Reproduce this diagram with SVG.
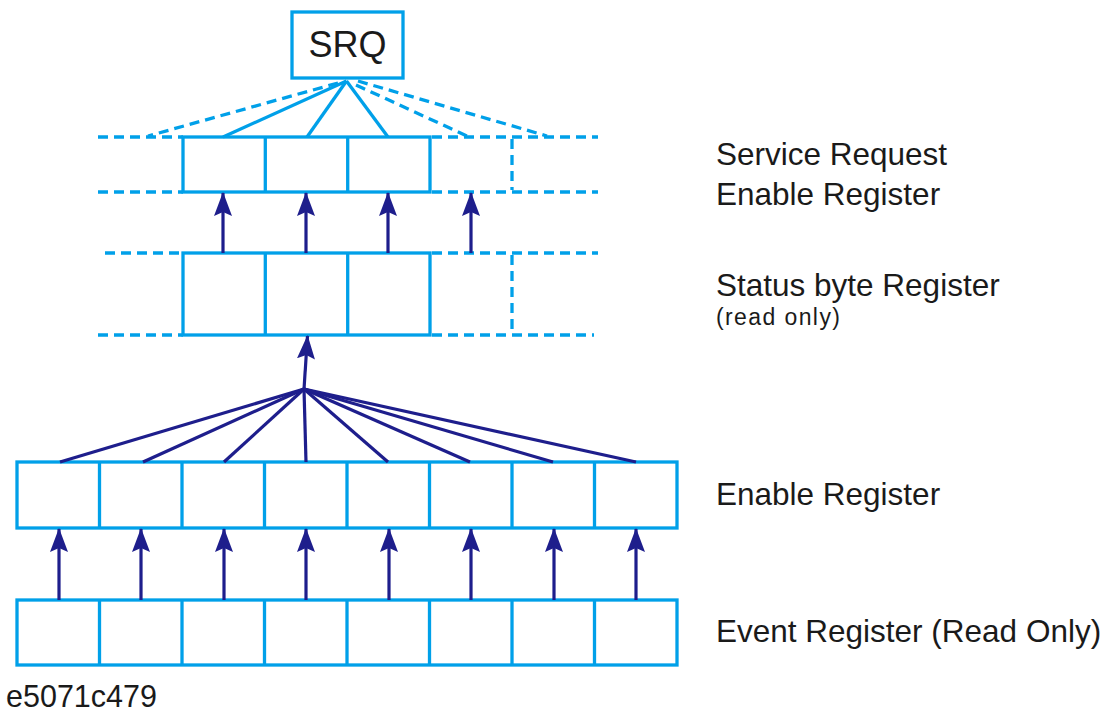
<svg xmlns="http://www.w3.org/2000/svg" width="1108" height="713" viewBox="0 0 1108 713">
<style>
.box{fill:none;stroke:#00a0e9;stroke-width:3.3}
.cell{stroke:#00a0e9;stroke-width:3.3}
.dash{fill:none;stroke:#00a0e9;stroke-width:3.3;stroke-dasharray:10 6}
.solid{fill:none;stroke:#00a0e9;stroke-width:3.3}
.nav{fill:none;stroke:#1e1e8c;stroke-width:3.2}
.arr{fill:none;stroke:#1e1e8c;stroke-width:3.2;marker-end:url(#ah)}
.lbl{font-family:"Liberation Sans",Arial,sans-serif;fill:#1a1a1a;font-size:31.5px}
</style>
<defs>
<marker id="ah" viewBox="0 0 24 18" refX="23" refY="9" markerWidth="24" markerHeight="18" markerUnits="userSpaceOnUse" orient="auto">
<path d="M0,0 L24,9 L0,18 L4,9 z" fill="#1e1e8c"/>
</marker>
</defs>
<rect width="1108" height="713" fill="#ffffff"/>

<g id="srq">
<rect class="box" x="292" y="12" width="111" height="66"/>
<text class="lbl" x="347.5" y="57" text-anchor="middle" style="font-size:36px">SRQ</text>
</g>

<g id="service-request-enable-register">
<rect class="box" x="183" y="137" width="247" height="55"/>
<line class="cell" x1="265.3" y1="137" x2="265.3" y2="192"/>
<line class="cell" x1="347.7" y1="137" x2="347.7" y2="192"/>
<line class="dash" x1="98" y1="137" x2="183" y2="137"/>
<line class="dash" x1="432" y1="137" x2="598" y2="137"/>
<line class="dash" x1="98" y1="192" x2="183" y2="192"/>
<line class="dash" x1="432" y1="192" x2="598" y2="192"/>
<line class="dash" x1="512" y1="139" x2="512" y2="190"/>
<text class="lbl" x="716" y="165">Service Request</text>
<text class="lbl" x="716" y="205">Enable Register</text>
</g>

<g id="status-byte-register">
<rect class="box" x="183" y="253" width="247" height="82"/>
<line class="cell" x1="265.3" y1="253" x2="265.3" y2="335"/>
<line class="cell" x1="347.7" y1="253" x2="347.7" y2="335"/>
<line class="dash" x1="105" y1="253" x2="183" y2="253"/>
<line class="dash" x1="432" y1="253" x2="598" y2="253"/>
<line class="dash" x1="98" y1="335" x2="183" y2="335"/>
<line class="dash" x1="432" y1="335" x2="594" y2="335"/>
<line class="dash" x1="512" y1="255" x2="512" y2="333"/>
<text class="lbl" x="716" y="296">Status byte Register</text>
<text class="lbl" x="716" y="325" style="font-size:23px;letter-spacing:1.4px">(read only)</text>
</g>

<g id="enable-register">
<rect class="box" x="17" y="462" width="660" height="66"/>
<line class="cell" x1="99.5" y1="462" x2="99.5" y2="528"/>
<line class="cell" x1="182" y1="462" x2="182" y2="528"/>
<line class="cell" x1="264.5" y1="462" x2="264.5" y2="528"/>
<line class="cell" x1="347" y1="462" x2="347" y2="528"/>
<line class="cell" x1="429.5" y1="462" x2="429.5" y2="528"/>
<line class="cell" x1="512" y1="462" x2="512" y2="528"/>
<line class="cell" x1="594.5" y1="462" x2="594.5" y2="528"/>
<text class="lbl" x="716" y="505">Enable Register</text>
</g>

<g id="event-register">
<rect class="box" x="17" y="600" width="660" height="65"/>
<line class="cell" x1="99.5" y1="600" x2="99.5" y2="665"/>
<line class="cell" x1="182" y1="600" x2="182" y2="665"/>
<line class="cell" x1="264.5" y1="600" x2="264.5" y2="665"/>
<line class="cell" x1="347" y1="600" x2="347" y2="665"/>
<line class="cell" x1="429.5" y1="600" x2="429.5" y2="665"/>
<line class="cell" x1="512" y1="600" x2="512" y2="665"/>
<line class="cell" x1="594.5" y1="600" x2="594.5" y2="665"/>
<text class="lbl" x="716" y="642">Event Register (Read Only)</text>
</g>

<g id="figure-id">
<text class="lbl" x="6" y="707" style="font-size:30.5px">e5071c479</text>
</g>

<g id="connectors">
<line class="solid" x1="346.5" y1="81" x2="223" y2="137"/>
<line class="solid" x1="346.5" y1="81" x2="307" y2="137"/>
<line class="solid" x1="346.5" y1="81" x2="388" y2="137"/>
<line class="dash" x1="338" y1="83" x2="148" y2="136"/>
<line class="dash" x1="356" y1="85" x2="467" y2="136"/>
<line class="dash" x1="358" y1="81" x2="547" y2="136"/>
<line class="arr" x1="223" y1="253" x2="223" y2="193"/>
<line class="arr" x1="306" y1="253" x2="306" y2="193"/>
<line class="arr" x1="388" y1="253" x2="388" y2="193"/>
<line class="arr" x1="471" y1="253" x2="471" y2="193"/>
<line class="arr" x1="304" y1="389" x2="307.5" y2="336"/>
<line class="nav" x1="304" y1="389" x2="60" y2="462"/>
<line class="nav" x1="304" y1="389" x2="143" y2="462"/>
<line class="nav" x1="304" y1="389" x2="224" y2="462"/>
<line class="nav" x1="304" y1="389" x2="306" y2="462"/>
<line class="nav" x1="304" y1="389" x2="388" y2="462"/>
<line class="nav" x1="304" y1="389" x2="470" y2="462"/>
<line class="nav" x1="304" y1="389" x2="553" y2="462"/>
<line class="nav" x1="304" y1="389" x2="636" y2="462"/>
<line class="arr" x1="59" y1="600" x2="59" y2="529"/>
<line class="arr" x1="141" y1="600" x2="141" y2="529"/>
<line class="arr" x1="224" y1="600" x2="224" y2="529"/>
<line class="arr" x1="306" y1="600" x2="306" y2="529"/>
<line class="arr" x1="389" y1="600" x2="389" y2="529"/>
<line class="arr" x1="471" y1="600" x2="471" y2="529"/>
<line class="arr" x1="554" y1="600" x2="554" y2="529"/>
<line class="arr" x1="636" y1="600" x2="636" y2="529"/>
</g>
</svg>
